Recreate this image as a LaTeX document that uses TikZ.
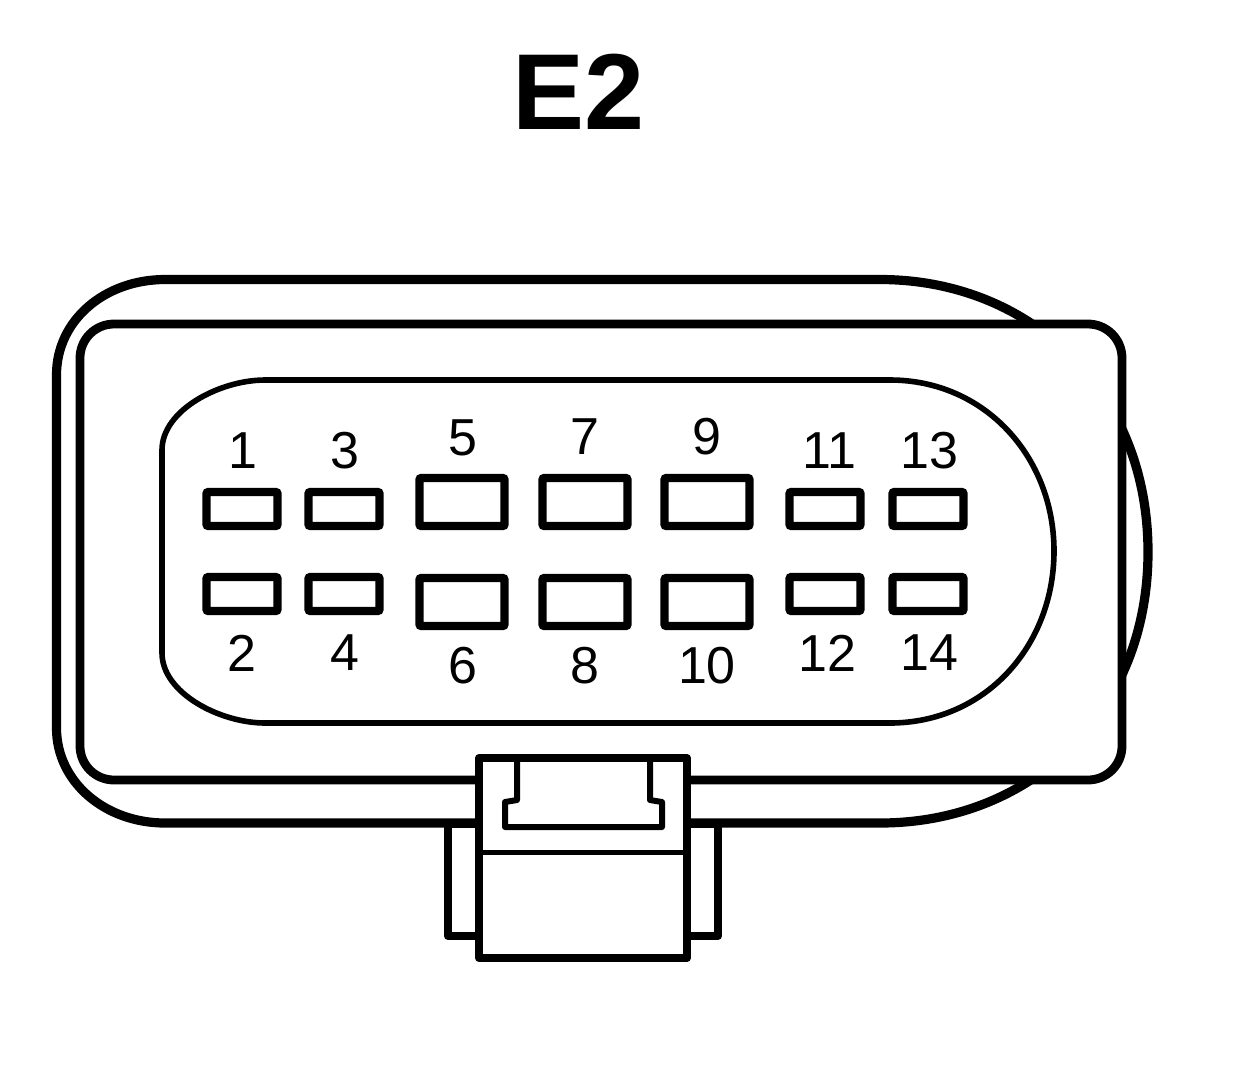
\documentclass[tikz,border=0pt]{standalone}
\usepackage{fontspec}
\setmainfont{Liberation Sans}
\tikzset{
  heavy/.style={draw=black,line width=4.4pt,line join=round},
  medium/.style={draw=black,line width=2.8pt,line join=round},
  thinrule/.style={draw=black,line width=2.5pt},
  pinbox/.style={draw=black,fill=white,line width=4.2pt,rectangle,rounded corners=1pt,inner sep=0pt,minimum height=17pt},
  smallpin/.style={pinbox,minimum width=35.5pt,minimum height=17pt},
  bigpin/.style={pinbox,minimum width=42.5pt,minimum height=24pt},
  pinlabel/.style={inner sep=0pt,font=\fontsize{26}{26}\selectfont},
  title/.style={inner sep=0pt,font=\fontsize{54}{54}\selectfont\bfseries}
}
\begin{document}
\begin{tikzpicture}[x=0.5pt,y=-0.5pt]
\useasboundingbox[fill=white] (0,0) rectangle (1248,1078);
\node[title] (t) at (579,92) {E2};
% outer shell
\draw[heavy,line width=4.6pt] (165,279.5) -- (880,279.5)
  .. controls (1030,279.5) and (1148,390) .. (1148,552)
  .. controls (1148,714) and (1030,823) .. (880,823)
  -- (165,823)
  .. controls (105,823) and (56.5,782) .. (56.5,728)
  -- (56.5,375)
  .. controls (56.5,320) and (105,279.5) .. (165,279.5) -- cycle;
% face plate
\draw[heavy,fill=white,rounded corners=17pt] (80,324) rectangle (1122,780);
% cavity
\draw[medium] (265,380) -- (890,380)
  .. controls (985,380) and (1054,457) .. (1054,551)
  .. controls (1054,646) and (985,723) .. (890,723)
  -- (265,723)
  .. controls (220,723) and (162,693) .. (162,653)
  -- (162,450)
  .. controls (162,410) and (220,380) .. (265,380) -- cycle;
% pins
\node[smallpin] (p1) at (242,509) {};
\node[smallpin] (p3) at (344,509) {};
\node[bigpin] (p5) at (462,502) {};
\node[bigpin] (p7) at (585,502) {};
\node[bigpin] (p9) at (707,502) {};
\node[smallpin] (p11) at (825,509) {};
\node[smallpin] (p13) at (928,509) {};
\node[smallpin] (p2) at (242,594) {};
\node[smallpin] (p4) at (344,594) {};
\node[bigpin] (p6) at (462,602) {};
\node[bigpin] (p8) at (585,602) {};
\node[bigpin] (p10) at (707,602) {};
\node[smallpin] (p12) at (825,594) {};
\node[smallpin] (p14) at (928,594) {};
% labels
\node[pinlabel] (l1) at (243,451) {1};
\node[pinlabel] (l3) at (345,451) {3};
\node[pinlabel] (l5) at (463,438) {5};
\node[pinlabel] (l7) at (585,437) {7};
\node[pinlabel] (l9) at (707,437) {9};
\node[pinlabel] (l11) at (829,451) {11};
\node[pinlabel] (l13) at (929,451) {13};
\node[pinlabel] (l2) at (242,653) {2};
\node[pinlabel] (l4) at (345,653) {4};
\node[pinlabel] (l6) at (463,666) {6};
\node[pinlabel] (l8) at (585,666) {8};
\node[pinlabel] (l10) at (707,666) {10};
\node[pinlabel] (l12) at (827,653) {12};
\node[pinlabel] (l14) at (929,653) {14};
% latch side tabs
\draw[heavy,line width=4pt] (479,824) -- (448,824) -- (448,936) -- (479,936);
\draw[heavy,line width=4pt] (687,824) -- (718,824) -- (718,936) -- (687,936);
% latch body
\draw[heavy,line width=4pt,fill=white] (479,758) rectangle (687,958);
\draw[thinrule] (479,852) -- (687,852);
\draw[heavy,line width=3pt] (517,758) -- (517,800) -- (505,802) -- (505,827) -- (662,827) -- (662,802) -- (650,800) -- (650,758);
\end{tikzpicture}
\end{document}
